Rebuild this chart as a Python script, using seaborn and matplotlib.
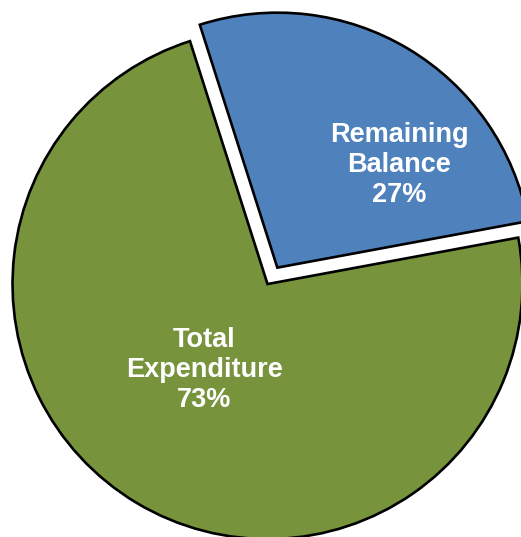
import matplotlib
matplotlib.use('Agg')
import matplotlib.pyplot as plt
import seaborn as sns

labels = ['Remaining\nBalance', 'Total\nExpenditure']
shares = [27, 73]
colors = ['#4F81BD', '#77933C']
explode = [0.075, 0]

sns.set_style('white')
plt.rcParams['font.family'] = ['Liberation Sans', 'DejaVu Sans']

fig = plt.figure(figsize=(5.21, 5.37), dpi=100)
ax = fig.add_axes([0, 0, 1, 1])
wedges, _ = ax.pie(shares, colors=colors, explode=explode, startangle=10.5,
                   counterclock=True, radius=1,
                   wedgeprops={'edgecolor': 'black', 'linewidth': 1.9})

label_pos = [(0.516, 0.467), (-0.249, -0.337)]
for lab, val, (x, y) in zip(labels, shares, label_pos):
    ax.text(x, y, f'{lab}\n{val}%', ha='center', va='center', color='white',
            fontsize=19.5, fontweight='bold', linespacing=1.2)

ax.set_xlim(-1.049, 0.994)
ax.set_ylim(-0.992, 1.114)
ax.set_aspect('equal')
ax.axis('off')
fig.savefig('out.png', dpi=100)
